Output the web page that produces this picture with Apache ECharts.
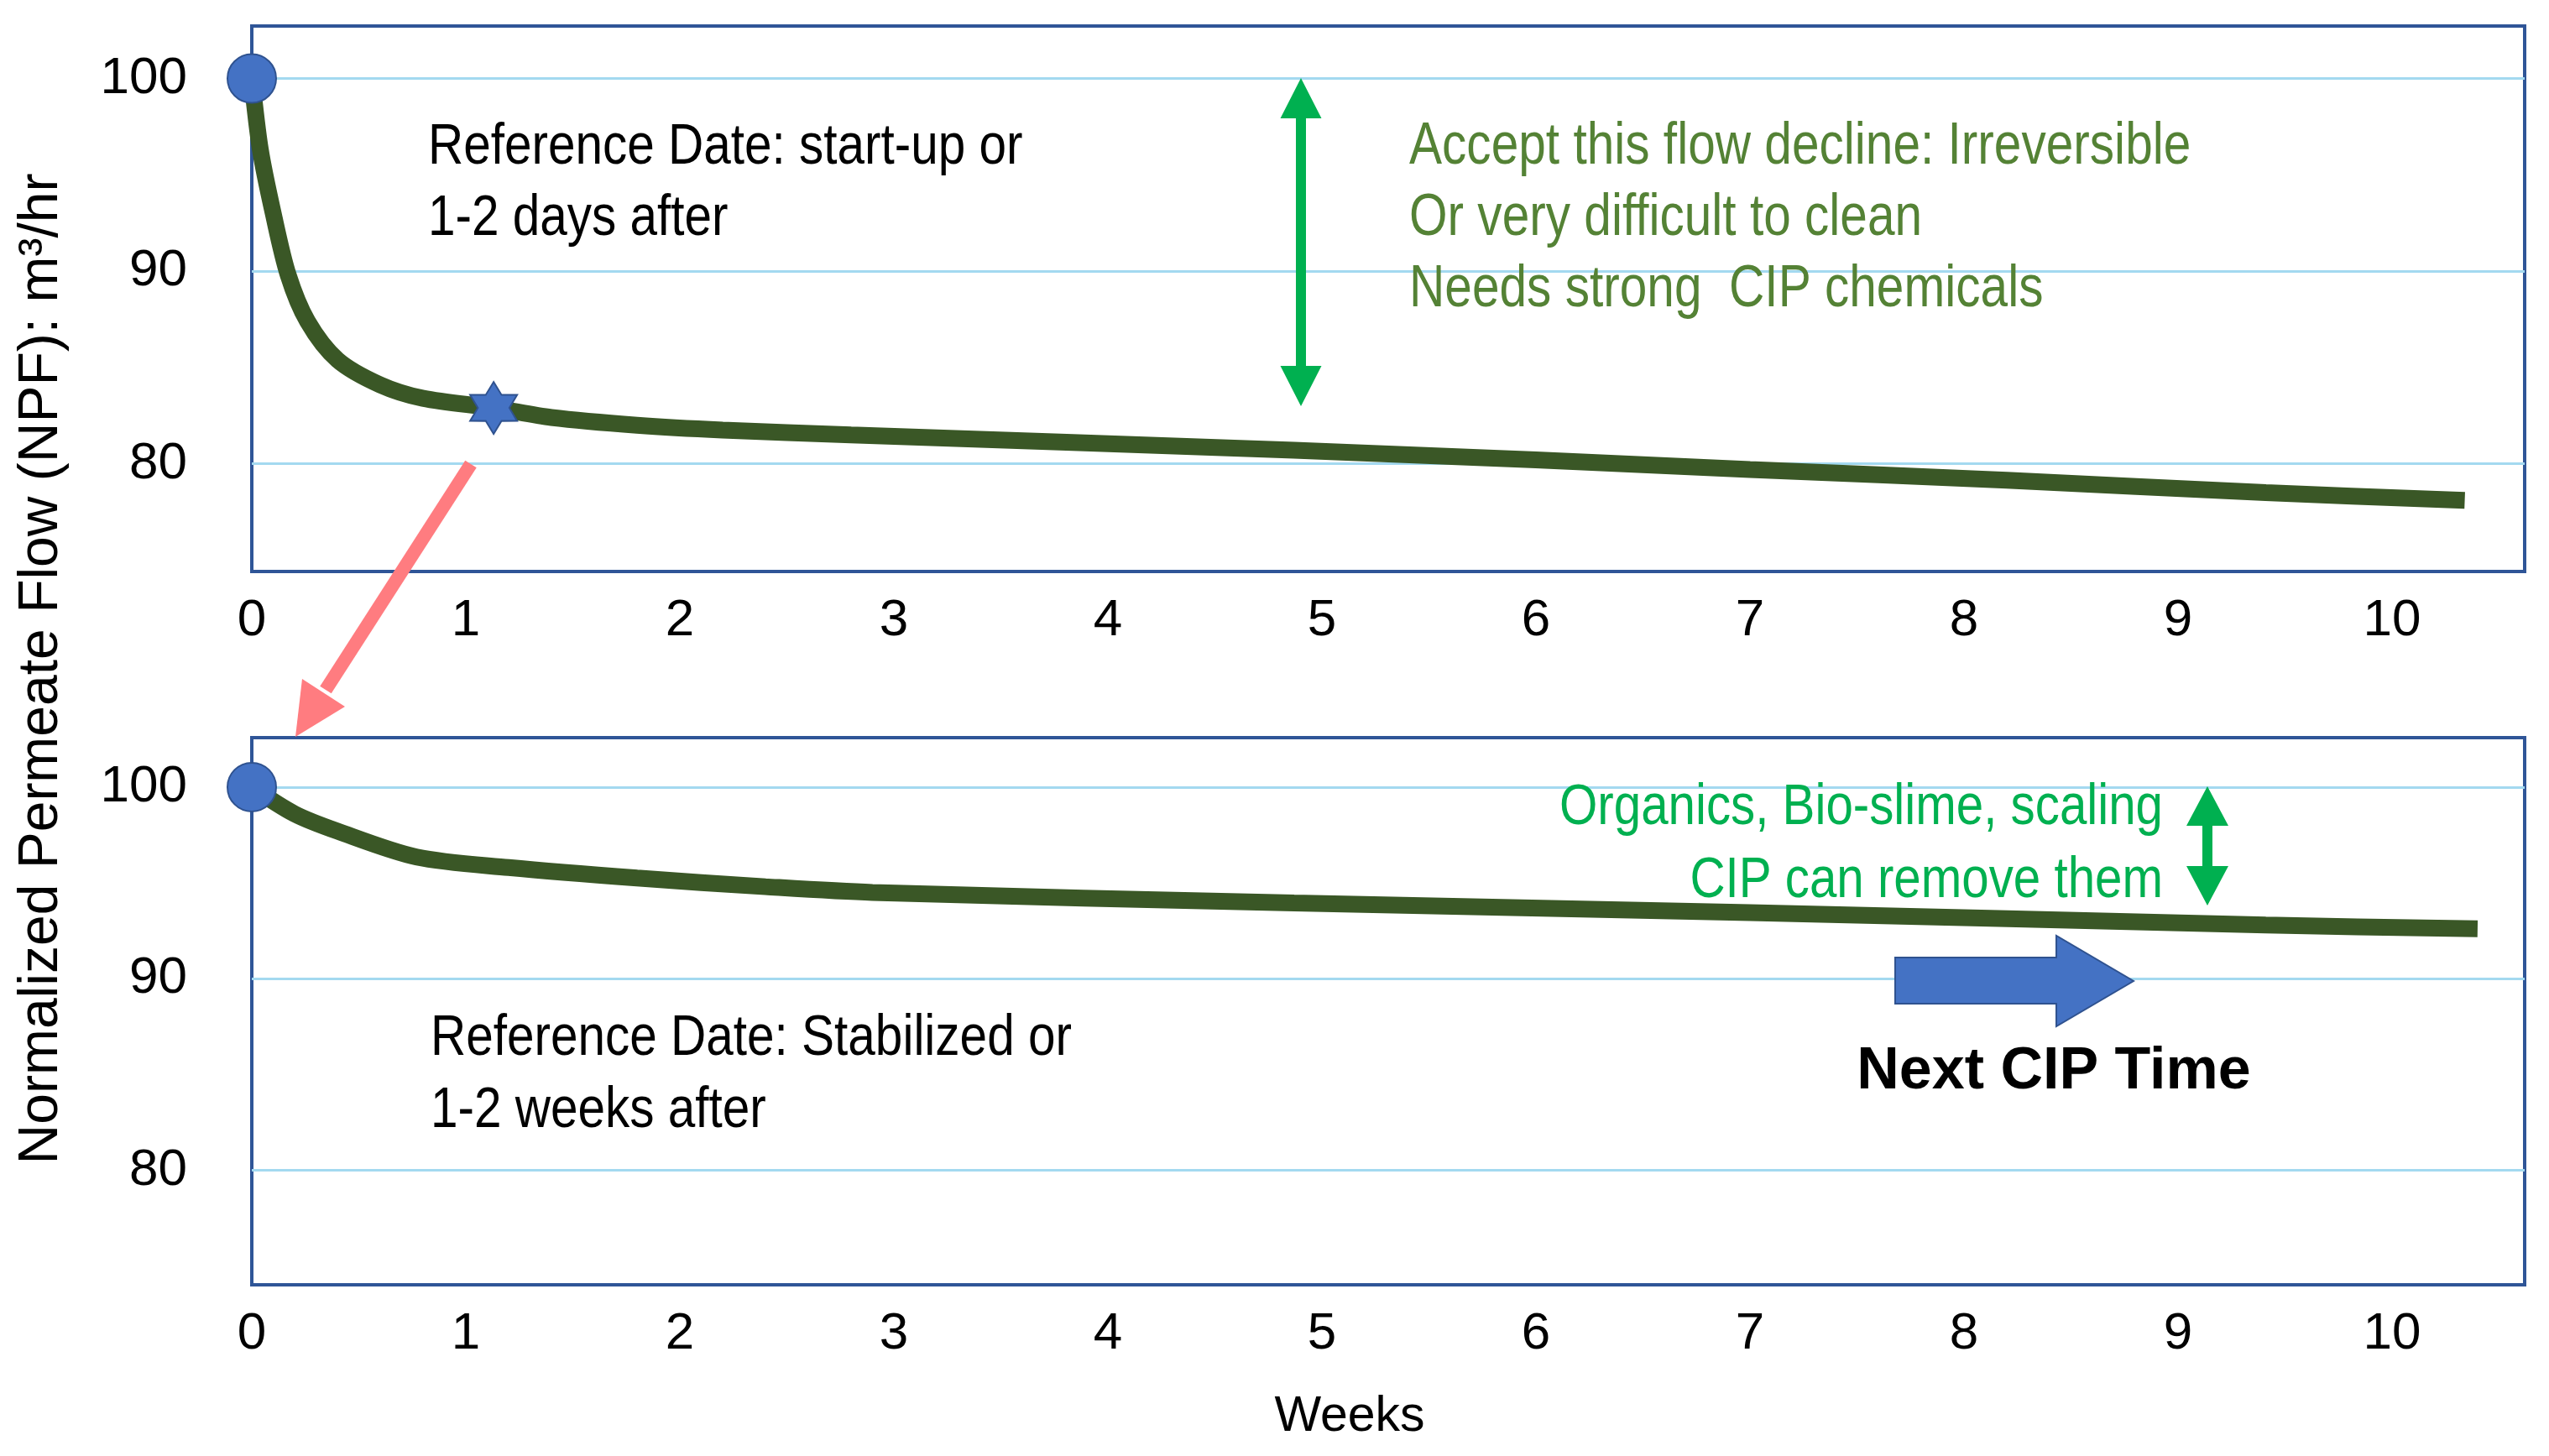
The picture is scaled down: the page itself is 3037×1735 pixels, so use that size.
<!DOCTYPE html>
<html><head><meta charset="utf-8">
<script src="https://cdn.jsdelivr.net/npm/echarts@6/dist/echarts.min.js"></script>
<style>html,body{margin:0;padding:0;background:#fff}#c{width:3037px;height:1735px}</style>
</head><body><div id="c"></div>
<script>
// ---- data ----
const xTicks = [0, 1, 2, 3, 4, 5, 6, 7, 8, 9, 10];
const yTicks = [80, 90, 100];
const weeksTop = [0, 0.04, 0.1, 0.17, 0.26, 0.4, 0.6, 0.8, 1.13, 1.4, 1.8, 2.2, 2.8, 4.87, 6.0, 7.0, 8.2, 9.41, 10.34];
const npfTop   = [100, 96.3, 93.0, 89.8, 87.4, 85.4, 84.1, 83.4, 82.9, 82.4, 82.0, 81.75, 81.5, 80.7, 80.2, 79.7, 79.15, 78.5, 78.1];
const weeksBottom = [0, 0.2, 0.4, 0.77, 1.2, 1.8, 2.4, 2.9, 4.87, 7.0, 9.41, 10.4];
const npfBottom   = [100, 98.6, 97.7, 96.35, 95.8, 95.25, 94.8, 94.5, 93.95, 93.45, 92.8, 92.6];
const startTop = [0, 100];
const refPointTop = [1.13, 82.9];
const startBottom = [0, 100];
const yAxisTitle = 'Normalized Permeate Flow (NPF): m\u00B3/hr';
const xAxisTitle = 'Weeks';
const topNoteLines = ['Reference Date: start-up or', '1-2 days after'];
const bottomNoteLines = ['Reference Date: Stabilized or', '1-2 weeks after'];
const irreversibleLines = ['Accept this flow decline: Irreversible', 'Or very difficult to clean', 'Needs strong  CIP chemicals'];
const reversibleLines = ['Organics, Bio-slime, scaling', 'CIP can remove them'];
const cipLabel = 'Next CIP Time';

// ---- styling ----
const FF = '"Liberation Sans", Arial, Helvetica, sans-serif';
const LINE_COLOR = '#3A5726';
const GRID_COLOR = '#A3D9F0';
const BOX_COLOR = '#2F5597';
const MARK_FILL = '#4472C4';
const MARK_EDGE = '#2F528F';
const STAR = 'path://M50 0L64.5 24.9L93.3 25L79 50L93.3 75L64.5 75.1L50 100L35.5 75.1L6.7 75L21 50L6.7 25L35.5 24.9Z';

const zip = (xs, ys) => xs.map((x, i) => [x, ys[i]]);

function xAxisFor(gi) {
  return {
    gridIndex: gi, type: 'value', min: 0, max: 10.62, interval: 1,
    axisLine: {show: false}, axisTick: {show: false, customValues: xTicks},
    splitLine: {show: false},
    axisLabel: {customValues: xTicks, fontSize: 62, color: '#000', fontFamily: FF, margin: 28}
  };
}
function yAxisFor(gi, mn, mx) {
  return {
    gridIndex: gi, type: 'value', min: mn, max: mx,
    axisLine: {show: false}, axisTick: {show: false, customValues: yTicks},
    axisLabel: {customValues: yTicks, fontSize: 62, color: '#000', fontFamily: FF, margin: 77},
    splitLine: {show: true, lineStyle: {color: GRID_COLOR, width: 3}}
  };
}
function textEl(str, x, y, size, color, align, sx, weight) {
  return {type: 'text', x: x, y: y, scaleX: sx || 1, z: 50,
    style: {text: str, fontSize: size, fontFamily: FF, fontWeight: weight || 'normal',
      fill: color, align: align, verticalAlign: 'middle'}};
}
function dblArrow(cx, yTop, yBot, halfHead, headLen, halfShaft, color) {
  return {type: 'polygon', z: 40, shape: {points: [
    [cx, yTop], [cx + halfHead, yTop + headLen], [cx + halfShaft, yTop + headLen],
    [cx + halfShaft, yBot - headLen], [cx + halfHead, yBot - headLen], [cx, yBot],
    [cx - halfHead, yBot - headLen], [cx - halfShaft, yBot - headLen],
    [cx - halfShaft, yTop + headLen], [cx - halfHead, yTop + headLen]]},
    style: {fill: color}};
}

const yTitle = textEl(yAxisTitle, 50, 797, 66, '#000', 'center');
yTitle.rotation = Math.PI / 2;
const graphics = [
  yTitle,
  textEl(xAxisTitle, 1608, 1689, 59, '#000', 'center'),
  textEl(topNoteLines[0], 510, 176, 68, '#000', 'left', 0.86),
  textEl(topNoteLines[1], 510, 261, 68, '#000', 'left', 0.86),
  textEl(bottomNoteLines[0], 513, 1238, 68, '#000', 'left', 0.86),
  textEl(bottomNoteLines[1], 513, 1324, 68, '#000', 'left', 0.86),
  textEl(irreversibleLines[0], 1679, 176, 70, '#548235', 'left', 0.837),
  textEl(irreversibleLines[1], 1679, 261, 70, '#548235', 'left', 0.837),
  textEl(irreversibleLines[2], 1679, 346, 70, '#548235', 'left', 0.837),
  textEl(reversibleLines[0], 2577, 963, 68, '#00B050', 'right', 0.857),
  textEl(reversibleLines[1], 2577, 1050, 68, '#00B050', 'right', 0.857),
  textEl(cipLabel, 2447, 1278, 70, '#000', 'center', 1, 'bold'),
  dblArrow(1550, 93, 484, 24.5, 48, 6, '#00B050'),
  dblArrow(2630, 937, 1079, 25, 47, 6, '#00B050'),
  {type: 'polygon', z: 40, shape: {points: [[2258, 1141], [2450, 1141], [2450, 1115], [2542, 1169], [2450, 1223], [2450, 1196], [2258, 1196]]},
    style: {fill: MARK_FILL, stroke: MARK_EDGE, lineWidth: 2}},
  {type: 'line', z: 45, shape: {x1: 561, y1: 553, x2: 388, y2: 822}, style: {stroke: '#FF7C80', lineWidth: 16, lineCap: 'butt'}},
  {type: 'polygon', z: 45, shape: {points: [[352, 878], [360, 809], [411, 842]]}, style: {fill: '#FF7C80'}}
];

const markerStyle = {color: MARK_FILL, borderColor: MARK_EDGE, borderWidth: 2, opacity: 1};
const option = {
  backgroundColor: '#fff',
  animation: false,
  grid: [
    {left: 300, top: 31, width: 2708, height: 650, show: true, borderColor: BOX_COLOR, borderWidth: 4},
    {left: 300, top: 879, width: 2708, height: 652, show: true, borderColor: BOX_COLOR, borderWidth: 4}
  ],
  xAxis: [xAxisFor(0), xAxisFor(1)],
  yAxis: [yAxisFor(0, 74.41, 102.72), yAxisFor(1, 74.02, 102.58)],
  series: [
    {type: 'line', xAxisIndex: 0, yAxisIndex: 0, data: zip(weeksTop, npfTop), smooth: 0.3,
      showSymbol: false, clip: false, z: 5, lineStyle: {color: LINE_COLOR, width: 20, cap: 'butt'}},
    {type: 'line', xAxisIndex: 1, yAxisIndex: 1, data: zip(weeksBottom, npfBottom), smooth: 0.3,
      showSymbol: false, clip: false, z: 5, lineStyle: {color: LINE_COLOR, width: 20, cap: 'butt'}},
    {type: 'scatter', xAxisIndex: 0, yAxisIndex: 0, data: [startTop], symbol: 'circle', symbolSize: 58, clip: false, z: 10,
      itemStyle: markerStyle},
    {type: 'scatter', xAxisIndex: 0, yAxisIndex: 0, data: [refPointTop], symbol: STAR, symbolSize: [56, 62], clip: false, z: 10,
      itemStyle: markerStyle},
    {type: 'scatter', xAxisIndex: 1, yAxisIndex: 1, data: [startBottom], symbol: 'circle', symbolSize: 58, clip: false, z: 10,
      itemStyle: markerStyle}
  ],
  graphic: graphics
};
const chart = echarts.init(document.getElementById('c'), null, {renderer: 'canvas'});
chart.setOption(option);
</script></body></html>
